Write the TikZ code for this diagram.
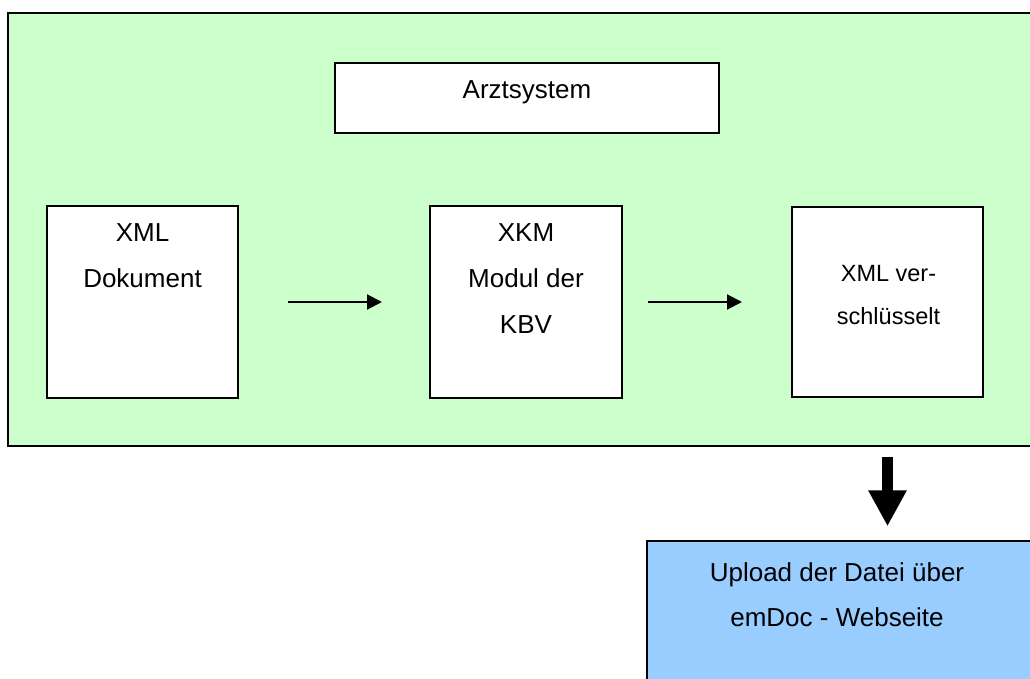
\documentclass[tikz,border=0pt]{standalone}
\usepackage{fontspec}
\setmainfont{Liberation Sans}
\usetikzlibrary{arrows.meta}

\definecolor{systemgreen}{HTML}{CCFFCC}
\definecolor{uploadblue}{HTML}{99CCFF}

\begin{document}
\begin{tikzpicture}[x=1pt,y=-1pt,line width=2pt,
  main box/.style={rectangle,draw=black,fill=white,line width=2pt,inner sep=0pt},
  box text/.style={anchor=north,inner sep=0pt,align=center,font=\fontsize{26}{46}\selectfont},
  flow/.style={-{Triangle[length=15pt,width=15pt]},line width=2pt}]

  \useasboundingbox (0,0) rectangle (1030,679);
  \clip (0,0) rectangle (1030,679);

  \node[main box,fill=systemgreen,minimum width=1040pt,minimum height=432pt] (system) at (528,229.5) {};
  \node[main box,minimum width=384pt,minimum height=70pt] (arzt) at (527,98) {};
  \node[main box,minimum width=191pt,minimum height=192pt] (doc) at (142.5,302) {};
  \node[main box,minimum width=192pt,minimum height=192pt] (xkm) at (526,302) {};
  \node[main box,minimum width=191pt,minimum height=190pt] (enc) at (887.5,302) {};
  \node[main box,fill=uploadblue,minimum width=390pt,minimum height=150pt] (upload) at (842,616) {};

  \node[box text] (arzttext) at (527,80) {Arztsystem};
  \node[box text] (doctext) at (142.5,222.7) {XML\\Dokument};
  \node[box text] (xkmtext) at (526,222.7) {XKM\\Modul der\\KBV};
  \node[box text,font=\fontsize{23.5}{43}\selectfont] (enctext) at (888.5,264.3) {XML ver-\\schlüsselt};
  \node[box text,font=\fontsize{26}{44.5}\selectfont] (uploadtext) at (837,562) {Upload der Datei über\\emDoc - Webseite};

  \path[flow]
    (doc) edge[shorten <=49pt,shorten >=47pt] (xkm);
  \path[flow]
    (xkm) edge[shorten <=25pt,shorten >=49pt] (enc);

  \draw[line width=11pt,-{Triangle[length=36pt,width=36pt]},shorten <=10.5pt,shorten >=13.7pt]
    (system.south -| enc.center) -- (upload.north -| enc.center);

\end{tikzpicture}
\end{document}
